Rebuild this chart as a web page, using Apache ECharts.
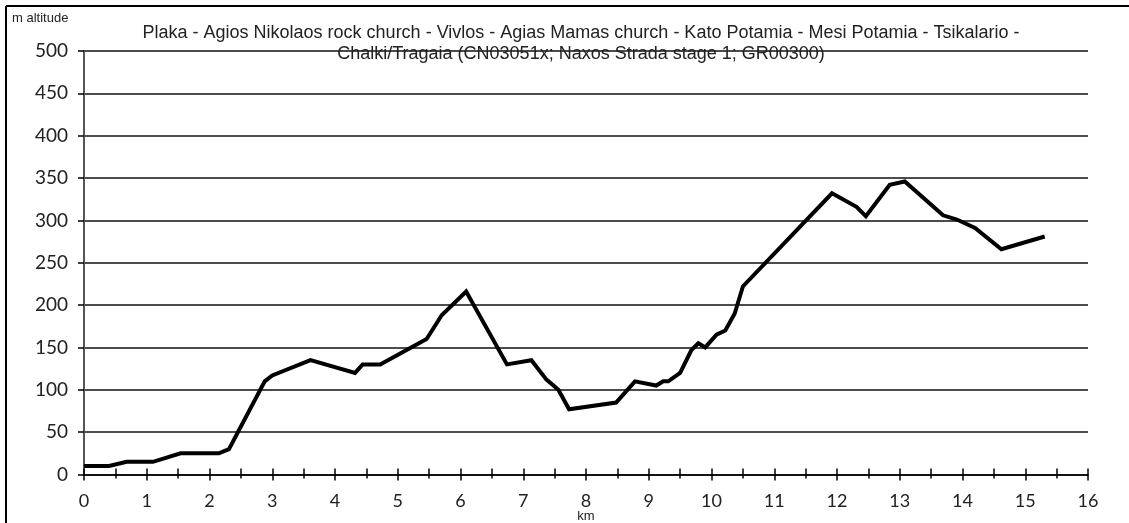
<!DOCTYPE html>
<html>
<head>
<meta charset="utf-8">
<script src="https://cdn.jsdelivr.net/npm/echarts@6/dist/echarts.min.js"></script>
<style>
  html, body { margin: 0; padding: 0; background: #fff; }
  #profile { width: 1129px; height: 523px; }
</style>
</head>
<body>
<div id="profile"></div>
<script>
// track profile: distance (km) and altitude (m)
const distanceKm = [0, 0.40, 0.68, 1.10, 1.54, 2.15, 2.31, 2.88, 3.0, 3.61, 4.32, 4.44, 4.72,
  5.46, 5.70, 6.09, 6.74, 7.13, 7.37, 7.56, 7.73, 8.48, 8.78, 9.12, 9.23, 9.31, 9.50,
  9.68, 9.79, 9.90, 10.08, 10.22, 10.37, 10.50, 11.92, 12.31, 12.46, 12.84, 13.08,
  13.69, 13.91, 14.20, 14.62, 15.31]
const altitudeM = [10, 10, 15, 15, 25, 25, 30, 110, 117, 135, 120, 130, 130,
  160, 188, 216, 130, 135, 112, 100, 77, 85, 110, 105, 110, 110, 120,
  147, 155, 150, 165, 170, 190, 222, 332, 316, 305, 342, 346,
  306, 301, 291, 266, 281]
const yTicks = [0, 50, 100, 150, 200, 250, 300, 350, 400, 450, 500]

const titleText = 'Plaka - Agios Nikolaos rock church - Vivlos - Agias Mamas church - Kato Potamia - Mesi Potamia - Tsikalario -\n' +
  'Chalki/Tragaia (CN03051x; Naxos Strada stage 1; GR00300)'

const chart = echarts.init(document.getElementById('profile'))

chart.setOption({
  animation: false,
  backgroundColor: '#fff',
  grid: { left: 84, right: 41, top: 51, bottom: 48.5, containLabel: false, outerBoundsMode: 'none' },
  title: {
    text: titleText,
    left: 576,
    top: 18,
    textAlign: 'center',
    textStyle: {
      fontFamily: 'Liberation Sans',
      fontSize: 18,
      fontWeight: 'normal',
      color: '#222',
      lineHeight: 21
    }
  },
  graphic: [
    { type: 'line', shape: { x1: 6, y1: 6, x2: 1129, y2: 6 }, style: { stroke: '#000', lineWidth: 2 } },
    { type: 'line', shape: { x1: 6, y1: 6, x2: 6, y2: 523 }, style: { stroke: '#000', lineWidth: 2 } },
    {
      type: 'text', left: 12, top: 12,
      style: { text: 'm altitude', font: '13px "Liberation Sans"', fill: '#222' }
    }
  ],
  xAxis: [
    {
      type: 'value', min: 0, max: 16, interval: 1,
      name: 'km', nameLocation: 'middle', nameGap: 35, nameMoveOverlap: false,
      nameTextStyle: { fontFamily: 'Liberation Sans', fontSize: 13, color: '#222' },
      axisLine: { show: true, onZero: false, lineStyle: { color: '#000', width: 1.5 } },
      axisTick: { show: true, inside: false, length: 6, lineStyle: { color: '#000', width: 1.5 } },
      minorTick: { show: true, splitNumber: 2, length: 4, lineStyle: { color: '#000', width: 1.5 } },
      axisLabel: { margin: 18, fontFamily: 'Lato', fontSize: 18, color: '#222' },
      splitLine: { show: false }
    },
    {
      type: 'value', min: 0, max: 16, interval: 1, position: 'bottom',
      axisLine: { show: false, onZero: false },
      axisTick: { show: true, inside: true, length: 6, lineStyle: { color: '#000', width: 1.5 } },
      minorTick: { show: true, splitNumber: 2, length: 6, lineStyle: { color: '#000', width: 1.5 } },
      axisLabel: { show: false },
      splitLine: { show: false }
    }
  ],
  yAxis: [
    {
      type: 'value', min: 0, max: 500, interval: 50,
      axisLine: { show: true, lineStyle: { color: '#000', width: 1.5 } },
      axisTick: { show: true, length: 6, lineStyle: { color: '#000', width: 1.5 } },
      axisLabel: {
        margin: 16, fontFamily: 'Lato', fontSize: 19, color: '#222',
        formatter: v => yTicks.includes(v) ? String(v) : ''
      },
      splitLine: { show: true, lineStyle: { color: '#111', width: 1.5 } }
    },
    {
      type: 'value', min: 0, max: 500, interval: 50, position: 'right',
      axisLine: { show: true, lineStyle: { color: '#555', width: 2 } },
      axisTick: { show: false },
      axisLabel: { show: false },
      splitLine: { show: false }
    }
  ],
  series: [
    {
      type: 'line',
      data: distanceKm.map((d, i) => [d, altitudeM[i]]),
      symbol: 'none',
      lineStyle: { color: '#000', width: 4, join: 'miter' }
    }
  ]
})
</script>
</body>
</html>
